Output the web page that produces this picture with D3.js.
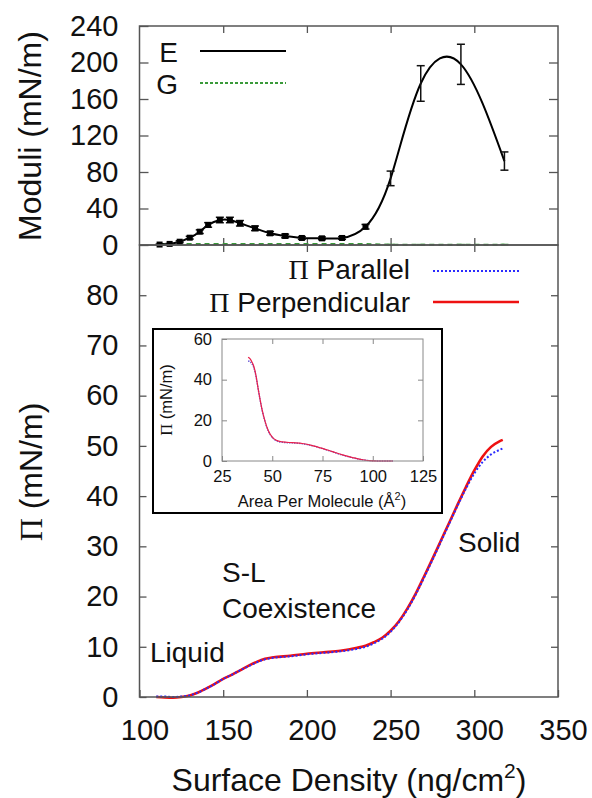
<!DOCTYPE html>
<html>
<head>
<meta charset="utf-8">
<script src="https://cdn.jsdelivr.net/npm/d3@7"></script>
<style>
  body { margin: 0; background: #fff; }
  text { font-family: "Liberation Sans", Arial, Helvetica, sans-serif; fill: #111; }
  .serif { font-family: "Liberation Serif", "Times New Roman", serif; }
</style>
</head>
<body>
<svg id="chart" width="592" height="798"></svg>
<script>
// ---- top panel: moduli vs surface density ----
const modDensity = [112, 118, 124, 130, 136, 141, 148, 154, 160, 169, 178, 187, 197, 209, 221, 235, 250, 268, 292, 318];
const modE       = [0.5, 1.2, 3.6, 8.0, 14.6, 22.0, 27.4, 27.4, 23.8, 18.3, 12.8, 9.9, 7.7, 7.3, 7.7, 20.0, 73, 177, 198, 92];
const modEerr    = [0.5, 0.5, 1.0, 1.5, 2.0, 2.5, 3.0, 3.0, 3.0, 2.5, 2.0, 2.0, 1.5, 1.5, 1.5, 2.5, 8, 19.5, 22, 10];
const modG       = [1.2, 1.2, 1.2, 1.2, 1.2, 1.2, 1.2, 1.2, 1.2, 1.2, 1.2, 1.2, 1.2, 1.2, 1.2, 1.0, 0.3, 0.2, 0.2, 0.3];
const modTicks = [0, 40, 80, 120, 160, 200, 240];

// ---- bottom panel: surface pressure vs surface density ----
const piDensity = [110, 115, 120, 125, 130, 135, 140, 145, 150, 155, 160, 165, 170, 175, 180, 190, 200, 210, 220, 230, 235, 240, 245, 250, 255, 260, 265, 270, 275, 280, 285, 290, 295, 300, 305, 310, 315, 317];
const piPerp = [0.0, -0.1, -0.15, 0.0, 0.3, 0.9, 1.7, 2.6, 3.6, 4.4, 5.3, 6.2, 7.0, 7.6, 7.9, 8.2, 8.6, 8.9, 9.2, 9.8, 10.2, 10.9, 11.8, 13.2, 15.1, 17.6, 20.6, 24.0, 27.5, 31.1, 34.7, 38.3, 41.8, 45.1, 47.9, 49.8, 50.9, 51.2];
const piPara = [0.1, 0.1, 0.0, 0.1, 0.3, 0.9, 1.7, 2.6, 3.6, 4.4, 5.3, 6.1, 6.9, 7.5, 7.8, 8.1, 8.5, 8.8, 9.1, 9.6, 10.0, 10.7, 11.6, 13.0, 14.9, 17.4, 20.4, 23.8, 27.3, 30.9, 34.5, 38.1, 41.5, 44.5, 46.8, 48.3, 49.2, 49.5];
const piTicks = [0, 10, 20, 30, 40, 50, 60, 70, 80];
const densityTicks = [100, 150, 200, 250, 300, 350];

// ---- inset: pressure vs area per molecule ----
const insetArea = [38, 39, 40, 41, 42, 43, 44, 45, 46, 48, 50, 52, 55, 60, 65, 70, 75, 80, 85, 90, 95, 100, 105, 110];
const insetPerp = [51.0, 50.2, 48.5, 46.0, 41.5, 35.5, 30.0, 25.0, 21.0, 15.0, 11.8, 10.2, 9.4, 9.0, 8.6, 7.6, 6.2, 4.6, 3.0, 1.7, 0.6, 0.1, 0.0, 0.0];
const insetPara = [49.2, 48.8, 47.6, 45.4, 41.2, 35.3, 29.8, 24.8, 20.8, 14.8, 11.6, 10.0, 9.2, 8.9, 8.5, 7.5, 6.1, 4.5, 2.9, 1.6, 0.6, 0.1, 0.0, 0.0];
const insetAreaTicks = [25, 50, 75, 100, 125];
const insetPiTicks = [0, 20, 40, 60];

const svg = d3.select('#chart');
const frameColor = '#555';
const sansFont = '"Liberation Sans", Arial, sans-serif';

const x = d3.scaleLinear().domain([100, 350]).range([139.5, 558]);
const yTop = d3.scaleLinear().domain([0, 240]).range([245, 26]);
const yBot = d3.scaleLinear().domain([0, 90]).range([697, 245]);

const styleAxis = (g) => {
  g.select('.domain').remove();
  g.selectAll('.tick line').attr('stroke', frameColor).attr('stroke-width', 1.3);
  g.selectAll('text').attr('fill', '#111');
};

const inner = [150, 200, 250, 300];

// ---- top panel ----
const topPanel = svg.append('g');

// ticks (inward, mirrored)
topPanel.append('g').attr('transform', 'translate(0,26)')
  .call(d3.axisTop(x).tickValues(inner).tickSize(-7).tickFormat(''))
  .call(styleAxis);
topPanel.append('g').attr('transform', 'translate(0,245)')
  .call(d3.axisBottom(x).tickValues(inner).tickSize(-7).tickFormat(''))
  .call(styleAxis);
topPanel.append('g').attr('transform', 'translate(558,0)')
  .call(d3.axisRight(yTop).tickValues(modTicks.slice(1, -1)).tickSize(-9).tickFormat(''))
  .call(styleAxis);
topPanel.append('g').attr('transform', 'translate(139.5,0)')
  .call(d3.axisLeft(yTop).tickValues(modTicks).tickSize(-9).tickPadding(21))
  .call(styleAxis)
  .call((g) => g.selectAll('text').attr('font-size', 29).attr('font-family', sansFont));

const modRows = modDensity.map((d, i) => ({ d, e: modE[i], err: modEerr[i], g: modG[i] }));

// G line (green dashed)
topPanel.append('path')
  .datum(modRows)
  .attr('fill', 'none')
  .attr('stroke', '#3a9a3a')
  .attr('stroke-width', 2)
  .attr('stroke-dasharray', '5,4')
  .attr('d', d3.line().x((r) => x(r.d)).y((r) => yTop(r.g)).curve(d3.curveNatural));

topPanel.append('g').selectAll('line')
  .data(modRows.filter((r) => r.d >= 250))
  .join('line')
  .attr('x1', (r) => x(r.d) - 4).attr('x2', (r) => x(r.d) + 4)
  .attr('y1', (r) => yTop(r.g)).attr('y2', (r) => yTop(r.g))
  .attr('stroke', '#3a9a3a').attr('stroke-width', 2);

// E line (spline)
topPanel.append('path')
  .datum(modRows)
  .attr('fill', 'none')
  .attr('stroke', '#000')
  .attr('stroke-width', 2)
  .attr('d', d3.line().x((r) => x(r.d)).y((r) => yTop(r.e)).curve(d3.curveNatural));

// error bars + markers
const eb = topPanel.append('g').attr('stroke', '#111').attr('stroke-width', 1.5);
eb.selectAll('.bar').data(modRows).join('line').attr('class', 'bar')
  .attr('x1', (r) => x(r.d)).attr('x2', (r) => x(r.d))
  .attr('y1', (r) => yTop(r.e - r.err)).attr('y2', (r) => yTop(r.e + r.err));
eb.selectAll('.capTop').data(modRows).join('line').attr('class', 'capTop')
  .attr('x1', (r) => x(r.d) - 4).attr('x2', (r) => x(r.d) + 4)
  .attr('y1', (r) => yTop(r.e + r.err)).attr('y2', (r) => yTop(r.e + r.err));
eb.selectAll('.capBot').data(modRows).join('line').attr('class', 'capBot')
  .attr('x1', (r) => x(r.d) - 4).attr('x2', (r) => x(r.d) + 4)
  .attr('y1', (r) => yTop(r.e - r.err)).attr('y2', (r) => yTop(r.e - r.err));
topPanel.append('g').selectAll('rect').data(modRows.filter((r) => r.d < 250)).join('rect')
  .attr('x', (r) => x(r.d) - 3).attr('y', (r) => yTop(r.e) - 3)
  .attr('width', 6).attr('height', 6).attr('fill', '#000');

// frame
topPanel.append('rect')
  .attr('x', 139.5).attr('y', 26).attr('width', 558 - 139.5).attr('height', 245 - 26)
  .attr('fill', 'none').attr('stroke', frameColor).attr('stroke-width', 1.5);

// legend
const topLegend = topPanel.append('g');
topLegend.append('text').attr('x', 178).attr('y', 62).attr('text-anchor', 'end').attr('font-size', 28).text('E');
topLegend.append('line').attr('x1', 200).attr('x2', 286).attr('y1', 51).attr('y2', 51)
  .attr('stroke', '#000').attr('stroke-width', 2);
topLegend.append('text').attr('x', 178).attr('y', 94).attr('text-anchor', 'end').attr('font-size', 28).text('G');
topLegend.append('line').attr('x1', 200).attr('x2', 286).attr('y1', 83).attr('y2', 83)
  .attr('stroke', '#3a9a3a').attr('stroke-width', 2).attr('stroke-dasharray', '3,2');

svg.append('text')
  .attr('transform', 'translate(41,136) rotate(-90)')
  .attr('text-anchor', 'middle').attr('font-size', 32)
  .text('Moduli (mN/m)');

// ---- bottom panel ----
const botPanel = svg.append('g');

botPanel.append('g').attr('transform', 'translate(0,697)')
  .call(d3.axisBottom(x).tickValues(densityTicks).tickSize(-7).tickPadding(22))
  .call(styleAxis)
  .call((g) => g.selectAll('text').attr('font-size', 29).attr('dx', 5).attr('font-family', sansFont));
botPanel.append('g').attr('transform', 'translate(0,245)')
  .call(d3.axisTop(x).tickValues(inner).tickSize(-7).tickFormat(''))
  .call(styleAxis);
botPanel.append('g').attr('transform', 'translate(139.5,0)')
  .call(d3.axisLeft(yBot).tickValues(piTicks).tickSize(-7).tickPadding(21))
  .call(styleAxis)
  .call((g) => g.selectAll('text').attr('font-size', 29).attr('font-family', sansFont));
botPanel.append('g').attr('transform', 'translate(558,0)')
  .call(d3.axisRight(yBot).tickValues(piTicks.slice(1)).tickSize(-7).tickFormat(''))
  .call(styleAxis);

const piRows = piDensity.map((d, i) => ({ d, perp: piPerp[i], para: piPara[i] }));

botPanel.append('path').datum(piRows)
  .attr('fill', 'none').attr('stroke', '#ee1111').attr('stroke-width', 2.6)
  .attr('d', d3.line().x((r) => x(r.d)).y((r) => yBot(r.perp)).curve(d3.curveMonotoneX));
botPanel.append('path').datum(piRows)
  .attr('fill', 'none').attr('stroke', '#2b2bff').attr('stroke-width', 2)
  .attr('stroke-dasharray', '2,2')
  .attr('d', d3.line().x((r) => x(r.d)).y((r) => yBot(r.para)).curve(d3.curveMonotoneX));

botPanel.append('rect')
  .attr('x', 139.5).attr('y', 245).attr('width', 558 - 139.5).attr('height', 697 - 245)
  .attr('fill', 'none').attr('stroke', frameColor).attr('stroke-width', 1.5);

// legend
const botLegend = botPanel.append('g').attr('font-size', 28);
const legText = (y, label) => {
  const t = botLegend.append('text').attr('x', 410).attr('y', y).attr('text-anchor', 'end');
  t.append('tspan').attr('class', 'serif').text('\u03a0');
  t.append('tspan').text(' ' + label);
};
legText(279, 'Parallel');
botLegend.append('line').attr('x1', 433).attr('x2', 519).attr('y1', 271).attr('y2', 271)
  .attr('stroke', '#2b2bff').attr('stroke-width', 2).attr('stroke-dasharray', '2,2');
legText(312, 'Perpendicular');
botLegend.append('line').attr('x1', 433).attr('x2', 519).attr('y1', 302).attr('y2', 302)
  .attr('stroke', '#ee1111').attr('stroke-width', 2.5);

// annotations
const ann = botPanel.append('g').attr('font-size', 28);
ann.append('text').attr('x', 150).attr('y', 662).text('Liquid');
ann.append('text').attr('x', 222).attr('y', 582).text('S-L');
ann.append('text').attr('x', 222).attr('y', 618).text('Coexistence');
ann.append('text').attr('x', 458).attr('y', 552).text('Solid');

// y title
const yt = svg.append('text')
  .attr('transform', 'translate(42,472) rotate(-90)')
  .attr('text-anchor', 'middle').attr('font-size', 32);
yt.append('tspan').attr('class', 'serif').text('\u03a0');
yt.append('tspan').text(' (mN/m)');

// x title
const xt = svg.append('text').attr('x', 349).attr('y', 791).attr('text-anchor', 'middle').attr('font-size', 32);
xt.append('tspan').text('Surface Density (ng/cm');
xt.append('tspan').attr('font-size', 21).attr('dy', -13).text('2');
xt.append('tspan').attr('dy', 13).text(')');

// ---- inset ----
const inset = svg.append('g');
inset.append('rect').attr('x', 153).attr('y', 329).attr('width', 289).attr('height', 184)
  .attr('fill', '#fff').attr('stroke', '#000').attr('stroke-width', 2);

const xi = d3.scaleLinear().domain([25, 125]).range([222, 423]);
const yi = d3.scaleLinear().domain([0, 60]).range([461, 339]);

inset.append('g').attr('transform', 'translate(0,461)')
  .call(d3.axisBottom(xi).tickValues(insetAreaTicks).tickSize(-5).tickPadding(9))
  .call(styleAxis)
  .call((g) => g.selectAll('text').attr('font-size', 16.5).attr('font-family', sansFont));
inset.append('g').attr('transform', 'translate(0,339)')
  .call(d3.axisTop(xi).tickValues(insetAreaTicks.slice(1, -1)).tickSize(-5).tickFormat(''))
  .call(styleAxis);
inset.append('g').attr('transform', 'translate(222,0)')
  .call(d3.axisLeft(yi).tickValues(insetPiTicks).tickSize(-5).tickPadding(10))
  .call(styleAxis)
  .call((g) => g.selectAll('text').attr('font-size', 16.5).attr('font-family', sansFont));
inset.append('g').attr('transform', 'translate(423,0)')
  .call(d3.axisRight(yi).tickValues(insetPiTicks.slice(1, -1)).tickSize(-5).tickFormat(''))
  .call(styleAxis);
inset.selectAll('.tick line').attr('stroke', '#888').attr('stroke-width', 1);

const insetRows = insetArea.map((a, i) => ({ a, perp: insetPerp[i], para: insetPara[i] }));
inset.append('path').datum(insetRows)
  .attr('fill', 'none').attr('stroke', '#6b5bd6').attr('stroke-width', 1.4)
  .attr('stroke-dasharray', '1.5,1')
  .attr('d', d3.line().x((r) => xi(r.a)).y((r) => yi(r.para)).curve(d3.curveMonotoneX));
inset.append('path').datum(insetRows)
  .attr('fill', 'none').attr('stroke', '#e8204a').attr('stroke-width', 1.2)
  .attr('d', d3.line().x((r) => xi(r.a)).y((r) => yi(r.perp)).curve(d3.curveMonotoneX));

inset.append('rect').attr('x', 222).attr('y', 339).attr('width', 201).attr('height', 122)
  .attr('fill', 'none').attr('stroke', '#888').attr('stroke-width', 1);

const it = inset.append('text').attr('transform', 'translate(172,400) rotate(-90)')
  .attr('text-anchor', 'middle').attr('font-size', 16.5);
it.append('tspan').attr('class', 'serif').text('\u03a0');
it.append('tspan').text(' (mN/m)');

const ix = inset.append('text').attr('x', 322).attr('y', 507).attr('text-anchor', 'middle').attr('font-size', 16.5);
ix.append('tspan').text('Area Per Molecule (\u00c5');
ix.append('tspan').attr('font-size', 11).attr('dy', -7).text('2');
ix.append('tspan').attr('dy', 7).text(')');
</script>
</body>
</html>
